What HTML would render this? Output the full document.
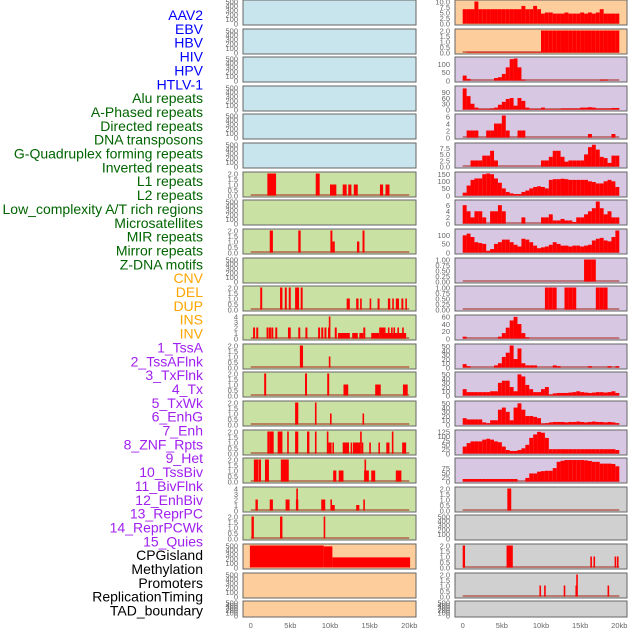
<!DOCTYPE html>
<html><head><meta charset="utf-8"><style>
html,body{margin:0;padding:0;background:#fff;}
svg{display:block;font-family:"Liberation Sans",sans-serif;}
</style></head><body>
<svg id="chart" width="630" height="630" viewBox="0 0 630 630"></svg>
<script>
// ---- layout ----
const ROW_TOP=[0,29,57,86,114,143,172,200,229,258,286,315,344,372,401,430,458,487,515,544,573,601];
const LABELS=["AAV2","EBV","HBV","HIV","HPV","HTLV-1","Alu repeats","A-Phased repeats","Directed repeats","DNA transposons","G-Quadruplex forming repeats","Inverted repeats","L1 repeats","L2 repeats","Low_complexity A/T rich regions","Microsatellites","MIR repeats","Mirror repeats","Z-DNA motifs","CNV","DEL","DUP","INS","INV","1_TssA","2_TssAFlnk","3_TxFlnk","4_Tx","5_TxWk","6_EnhG","7_Enh","8_ZNF_Rpts","9_Het","10_TssBiv","11_BivFlnk","12_EnhBiv","13_ReprPC","14_ReprPCWk","15_Quies","CPGisland","Methylation","Promoters","ReplicationTiming","TAD_boundary"];
const LABEL_COLORS=["#0000ff","#0000ff","#0000ff","#0000ff","#0000ff","#0000ff","#006400","#006400","#006400","#006400","#006400","#006400","#006400","#006400","#006400","#006400","#006400","#006400","#006400","#ffa500","#ffa500","#ffa500","#ffa500","#ffa500","#a020f0","#a020f0","#a020f0","#a020f0","#a020f0","#a020f0","#a020f0","#a020f0","#a020f0","#a020f0","#a020f0","#a020f0","#a020f0","#a020f0","#a020f0","#000","#000","#000","#000","#000"];
const X_TICKS=[0,5,10,15,20];
const X_TICK_LABELS=["0","5kb","10kb","15kb","20kb"];

// ---- tick sets ----
const T500=[0,100,200,300,400,500];
const T2=[0,0.5,1,1.5,2];
const T4=[0,1,2,3,4];
const T1=[0,0.25,0.5,0.75,1];

// ---- left column data: [startKb,endKb,value] ----
const L7=[[2.1,3.2,2],[8.2,8.7,2],[10,10.8,1],[11.6,12.1,1],[12.3,12.7,1],[13,13.5,1],[16.3,16.7,1],[17,17.5,1]];
const L9=[[2.4,2.8,2],[6,6.3,2],[10.05,10.3,2],[10.3,10.6,1],[13.4,13.7,1],[14.1,14.35,2]];
const L11=[[1.2,1.45,2],[3.7,4,2],[4.3,4.55,2],[4.8,5.05,2],[5.6,6.1,2],[6.3,6.55,2],[12.1,12.5,1],[13.3,13.6,1],[13.8,14,1],[15,15.2,1],[16,16.25,1],[17.3,17.6,1],[17.85,18.05,1],[18.3,18.7,1],[19,19.25,1],[19.5,19.7,1]];
const L12=[[0.3,0.55,2],[0.7,0.95,2],[2,2.25,2],[2.3,2.55,2],[2.6,2.85,2],[3.1,3.35,2],[4.7,5.05,2],[6,6.25,2],[6.9,7.15,2],[8.5,8.75,2],[8.9,9.15,2],[9.3,9.55,2],[9.75,10.0,2],[9.85,10.0,4],[10.6,10.85,2],[11,12.5,1],[12.8,13.5,1],[13.7,14.2,1],[14.2,14.45,2],[15.2,16.2,1],[16.2,17,2],[17,19.6,1],[17.3,17.5,2],[17.7,17.9,2],[18.0,18.2,2],[18.5,18.7,2],[19.1,19.3,2]];
const L13=[[6.2,6.6,2],[9.85,10.05,1]];
const L14=[[1.7,1.95,2],[6.85,7.1,2],[9.65,9.9,2],[11.7,12.3,1],[15.7,16.4,1],[19.2,19.8,1]];
const L15=[[5.6,6.0,2],[8.1,8.3,2],[10.0,10.2,1],[14.1,14.3,1]];
const L16=[[2.1,2.4,2],[2.4,2.9,2],[3.4,4,2],[4.6,4.8,2],[5.6,6,2],[7.1,7.4,2],[8.1,8.3,2],[9.6,9.8,2],[9.8,10.2,1],[10.3,10.5,1],[11.6,12.4,1],[12.6,12.8,1],[12.9,13.8,1],[13.8,14.0,2],[14.0,14.2,1],[14.95,15.15,1],[16.1,16.3,1],[17.1,17.5,1],[17.8,18.0,2],[19.1,19.6,1]];
const L17=[[0.4,1,2],[1.05,1.3,2],[1.8,2.3,2],[3.8,4.8,2],[10.4,10.8,1],[11.1,11.7,1],[14.3,14.9,1],[14.35,14.55,2],[15.2,15.7,1],[18.3,19,1]];
const L18=[[0.6,0.9,2],[2.4,2.8,2],[4.4,4.9,2],[5.7,6.0,2],[5.75,5.95,4],[8.9,9.4,2],[10.05,10.25,2],[10.2,10.6,1],[13.3,13.7,1],[14.2,14.4,2]];
const L19=[[0.1,0.4,2],[3.7,4.0,2],[9.2,9.4,2]];
const L20=[[-0.1,9.2,500],[9.2,10.3,480],[10.3,20.1,230]];

// ---- right column data: 40 bins of 0.5kb ----
const R1=[6.5,6.5,6.5,10,6.5,6.5,6.5,6.5,6.5,6.5,6.5,6.5,6.5,6.5,6.5,8,6.5,6.5,8,6.5,4.5,5,5,4.5,4.5,4.5,5,4.5,4.5,4.5,5,4.5,5,4.5,5,6.5,4.5,4.5,4.5,4.5];
const R2=[0,0.05,0.05,0.05,0.05,0.05,0.05,0.05,0.05,0.05,0.05,0.05,0.05,0.05,0.05,0.05,0.05,0.05,0.05,0.05,2,2,2,2,2,2,2,2,2,2,2,2,2,2,2,2,2,2,2,2];
const R3=[30,10,0,0,0,0,0,0,15,20,40,80,130,134,80,5,0,0,0,0,0,0,0,0,0,0,0,0,0,0,0,0,0,0,0,5,5,0,0,0];
const R4=[110,70,30,10,3,3,3,5,10,25,40,55,60,20,60,45,10,3,3,3,10,2,2,2,2,5,5,5,5,5,10,10,12,10,5,5,5,5,8,8];
const R5=[0,2,2,2,0,0,2,2,4,4,6.3,2,0,0,2,2,0,0,0,0,0,0,0,0,0,0,0,0,0,0,0,0,1,0,0,0,0,0,1,0];
const R6=[0,0,2.5,2.5,2.5,4.5,4.5,6.5,2.5,0,0,0,0,0,0,0,0,0,0,0,2.5,2.5,4,6.5,6.5,4,2,2.5,2.5,2.5,2.5,5,8,9,7,4,3.5,1.5,4.5,4.5];
const R7=[20,70,110,120,120,150,155,150,120,90,50,25,15,10,10,25,35,50,60,65,60,50,110,115,115,118,115,110,110,110,110,110,100,95,85,85,100,110,100,60];
const R8=[6,4,2,4,4,2,0,4,4,6,4,0,0,0,0,2,0,0,0,0,2,2,3,1,1,1.5,1,1,0.5,2,2,3,4,5,7.2,5,3,4,2,2];
const R9=[100,110,90,60,55,50,10,20,50,60,75,75,60,45,35,80,75,60,40,25,30,35,45,60,50,40,40,35,40,40,35,40,45,70,80,85,70,65,90,128];
const R10=[0,0,0,0,0,0,0,0,0,0,0,0,0,0,0,0,0,0,0,0,0,0,0,0,0,0,0,0,0,0,0,1,1,1,0,0,0,0,0,0];
const R11=[0,0,0,0,0,0,0,0,0,0,0,0,0,0,0,0,0,0,0,0,0,1,1,1,0,0,1,1,1,0,0,0,0,0,1,1,1,0,0,0];
const R12=[5,0,0,0,0,0,0,0,0,5,15,30,50,60,40,15,3,0,0,0,0,0,0,0,0,0,0,0,0,0,0,0,0,0,0,0,0,0,0,0];
const R13=[8,3,0,0,0,0,0,0,5,10,25,35,52,20,45,10,5,5,5,0,0,0,0,5,3,0,0,0,0,0,0,0,3,0,0,0,0,3,0,3];
const R14=[15,8,8,8,8,8,8,10,10,30,35,35,20,10,50,45,25,15,8,8,15,20,2,5,6,6,6,7,8,10,8,7,6,7,8,8,7,8,10,6];
const R15=[15,12,12,12,12,5,3,10,10,35,40,30,10,40,50,35,20,20,18,15,2,3,5,6,6,6,5,6,6,7,6,5,6,7,6,6,5,6,5,3];
const R16=[40,60,70,70,70,80,85,80,70,65,40,20,15,15,20,30,50,90,110,125,120,90,25,25,25,25,25,25,25,25,25,25,25,25,25,25,25,25,25,20];
const R17=[14,14,14,14,14,14,14,14,14,14,14,14,14,14,0,0,20,45,45,55,58,60,60,75,110,116,120,120,120,120,120,118,115,110,110,100,100,100,98,85];
// sparse right
const R18=[[5.7,6.2,2]];
const R20=[[0,0.3,2],[5.6,6.4,2],[16.3,16.5,1],[16.7,16.9,1],[19.4,19.6,1],[19.7,19.9,1]];
const R21=[[9.8,10.0,1],[10.4,10.6,1],[12.9,13.1,1],[14.4,14.6,1],[14.5,14.7,2],[18.5,18.7,1]];

const LEFT_BG=["#c8e4ec","#c8e4ec","#c8e4ec","#c8e4ec","#c8e4ec","#c8e4ec","#c9e2a4","#c9e2a4","#c9e2a4","#c9e2a4","#c9e2a4","#c9e2a4","#c9e2a4","#c9e2a4","#c9e2a4","#c9e2a4","#c9e2a4","#c9e2a4","#c9e2a4","#fecd9c","#fecd9c","#fecd9c"];
const RIGHT_BG=["#fecd9c","#fecd9c","#d8c7e2","#d8c7e2","#d8c7e2","#d8c7e2","#d8c7e2","#d8c7e2","#d8c7e2","#d8c7e2","#d8c7e2","#d8c7e2","#d8c7e2","#d8c7e2","#d8c7e2","#d8c7e2","#d8c7e2","#d0d0d0","#d0d0d0","#d0d0d0","#d0d0d0","#d0d0d0"];

const LEFT=[
 {t:T500,m:500,d:[]},{t:T500,m:500,d:[]},{t:T500,m:500,d:[]},{t:T500,m:500,d:[]},{t:T500,m:500,d:[]},{t:T500,m:500,d:[]},
 {t:T2,m:2,d:L7},{t:T500,m:500,d:[]},{t:T2,m:2,d:L9},{t:T500,m:500,d:[]},{t:T2,m:2,d:L11},{t:T4,m:4,d:L12},
 {t:T2,m:2,d:L13},{t:T2,m:2,d:L14},{t:T2,m:2,d:L15},{t:T2,m:2,d:L16},{t:T2,m:2,d:L17},{t:T4,m:4,d:L18},{t:T2,m:2,d:L19},
 {t:T500,m:500,d:L20,nobase:true},{t:T500,m:500,d:[]},{t:T500,m:500,d:[]}];
const RIGHT=[
 {t:[0,2.5,5,7.5,10],m:10,b:R1,lab:["0.0","2.5","5.0","7.5","10.0"]},
 {t:T2,m:2,b:R2},
 {t:[0,50,100],m:134,b:R3},
 {t:[0,30,60,90],m:115,b:R4},
 {t:[0,2,4,6],m:6.3,b:R5},
 {t:[0,2.5,5,7.5],m:9.1,b:R6},
 {t:[0,50,100,150],m:155,b:R7},
 {t:[0,2,4,6],m:7.2,b:R8},
 {t:[0,50,100],m:128,b:R9},
 {t:T1,m:1,b:R10},
 {t:T1,m:1,b:R11},
 {t:[0,20,40,60],m:61,b:R12},
 {t:[0,10,20,30,40,50],m:52,b:R13},
 {t:[0,10,20,30,40,50],m:52,b:R14},
 {t:[0,10,20,30,40,50],m:52,b:R15},
 {t:[0,25,50,75,100,125],m:127,b:R16},
 {t:[0,25,50,75],m:123,b:R17},
 {t:T2,m:2,d:R18},
 {t:T500,m:500,d:[]},
 {t:T2,m:2,d:R20},
 {t:T2,m:2,d:R21},
 {t:T500,m:500,d:[]}];

const svg=document.getElementById('chart');
const NS="http://www.w3.org/2000/svg";
function mk(tag,at,parent){const e=document.createElementNS(NS,tag);for(const k in at)e.setAttribute(k,at[k]);(parent||svg).appendChild(e);return e;}
function fmt(v,ticks){const dec=ticks.some(t=>t%1!==0);if(!dec)return String(v);const two=ticks.some(t=>(t*10)%1!==0);return two?v.toFixed(2):v.toFixed(1);}

// labels
LABELS.forEach((s,i)=>{
 const t=mk('text',{x:203,y:15+i*13.85+5,'text-anchor':'end','font-size':'14',fill:LABEL_COLORS[i]});
 t.textContent=s;
 
 
});

function drawPanel(side,i,cfg){
 const top=ROW_TOP[i], bot=(i===21?617:top+25);
 const x0=side==='L'?243:455, x1=side==='L'?416:627;
 const z=side==='L'?250.7:462.7, k=side==='L'?7.93:7.83;
 const xs=kb=>z+kb*k;
 const yb=bot-1.5, yt=top+1.5;
 const ys=v=>yb-(v/cfg.m)*(yb-yt);
 const g=mk('g',{});
 
 
 mk('rect',{x:x0,y:top,width:x1-x0,height:bot-top,fill:side==='L'?LEFT_BG[i]:RIGHT_BG[i],stroke:'#666','stroke-width':1},g);
 const bars=[];
 if(cfg.b){cfg.b.forEach((v,j)=>{if(v>0)bars.push([j*0.5,(j+1)*0.5,v]);});}
 if(cfg.d)cfg.d.forEach(b=>bars.push(b));
 const hasData=bars.length>0;
 if(hasData && !cfg.nobase){
  const bl=mk('line',{x1:xs(0),x2:xs(20),y1:yb-0.5,y2:yb-0.5,stroke:'rgba(170,50,40,0.55)','stroke-width':2},g);
  
  
 }
 bars.forEach(b=>{
  const y=ys(b[2]);
  const r=mk('rect',{x:xs(b[0]),y:y,width:Math.max(1.6,xs(b[1])-xs(b[0])),height:Math.max(0,yb-y),fill:'#ff0000'},g);
  
  
 });
 cfg.t.forEach((tv,j)=>{
  const y=ys(tv);
  const tx=mk('text',{x:x0-5,y:y+2.8,'text-anchor':'end','font-size':'7.5',fill:'#666'},g);
  tx.textContent=cfg.lab?cfg.lab[j]:fmt(tv,cfg.t);
  
  
 });
}
LEFT.forEach((c,i)=>drawPanel('L',i,c));
RIGHT.forEach((c,i)=>drawPanel('R',i,c));

// x axes
[['L',250.7,7.93],['R',462.7,7.83]].forEach(a=>{
 X_TICKS.forEach((v,j)=>{
  const t=mk('text',{x:a[1]+v*a[2],y:628,'text-anchor':'middle','font-size':'7.5',fill:'#666'});
  t.textContent=X_TICK_LABELS[j];
  
  
 });
});
</script>
</body></html>
